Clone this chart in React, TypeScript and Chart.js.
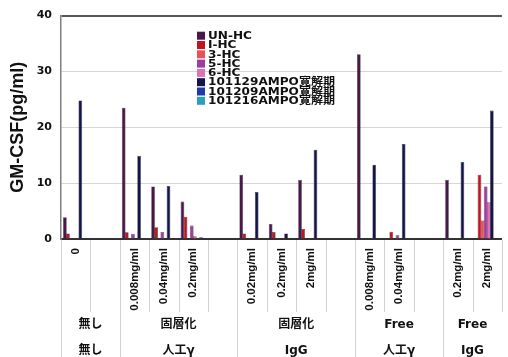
import React, { useEffect, useRef } from 'react';
import { Chart, registerables } from 'chart.js';

Chart.register(...registerables);

// Dose labels per column (blank columns separate the groups)
const categories = [
  '0', '',
  '0.008mg/ml', '0.04mg/ml', '0.2mg/ml', '',
  '0.02mg/ml', '0.2mg/ml', '2mg/ml', '',
  '0.008mg/ml', '0.04mg/ml', '',
  '0.2mg/ml', '2mg/ml',
];

const seriesNames = [
  'UN-HC', 'I-HC', '3-HC', '5-HC', '6-HC',
  '101129AMPO寛解期', '101209AMPO寛解期', '101216AMPO寛解期',
];

// GM-CSF (pg/ml) per column for each sample
const unHC = [3.9, 0, 23.5, 9.4, 6.7, 0, 11.5, 2.7, 10.6, 0, 33.1, 0, 0, 10.6, 0];
const iHC = [1.0, 0, 1.2, 2.1, 4.0, 0, 1.0, 1.25, 1.8, 0, 0, 1.3, 0, 0, 11.5];
const hc3 = [0.2, 0, 0, 0, 0, 0, 0, 0, 0, 0, 0, 0, 0, 0, 3.3];
const hc5 = [0, 0, 0.9, 1.25, 2.4, 0, 0, 0, 0, 0, 0, 0.65, 0, 0, 9.4];
const hc6 = [0, 0, 0, 0, 0.5, 0, 0, 0, 0, 0, 0, 0, 0, 0, 6.6];
const ampo1129 = [24.8, 0, 14.9, 9.5, 0, 0, 8.4, 1.0, 16.0, 0, 13.3, 17.0, 0, 13.8, 23.0];
const ampo1209 = [0, 0, 0, 0, 0.3, 0, 0, 0, 0, 0, 0, 0, 0, 0, 0];
const ampo1216 = [0, 0, 0, 0, 0, 0, 0, 0, 0, 0, 0, 0, 0, 0, 0];

const seriesValues = [unHC, iHC, hc3, hc5, hc6, ampo1129, ampo1209, ampo1216];
const seriesColors = [
  '#4a1848', '#c0141e', '#e8505a', '#a03ca0',
  '#e070b8', '#14164a', '#1e3ca8', '#2aa0c0',
];

// Two-row group table under the dose labels
const groupRow1 = ['無し', '固層化', '固層化', 'Free', 'Free'];
const groupRow2 = ['無し', '人工γ', 'IgG', '人工γ', 'IgG'];
const groupFirst = [0, 2, 6, 10, 13];
const groupLast = [1, 5, 9, 12, 14];

const yTicks = [0, 10, 20, 30, 40];

const legendPlugin = {
  id: 'insideLegend',
  afterDraw(chart: any) {
    const ctx = chart.ctx;
    ctx.save();
    ctx.font = 'bold 10.5px "DejaVu Sans", "Noto Sans CJK JP"';
    ctx.textBaseline = 'middle';
    ctx.textAlign = 'left';
    chart.data.datasets.forEach((ds: any, i: number) => {
      const cy = 35.7 + i * 9.3;
      ctx.fillStyle = ds.backgroundColor;
      ctx.fillRect(197, cy - 4, 8, 8);
      ctx.save();
      ctx.translate(208, cy + 0.5);
      ctx.scale(1.15, 1);
      ctx.fillStyle = '#111';
      ctx.fillText(ds.label, 0, 0);
      ctx.restore();
    });
    ctx.restore();
  },
};

const groupTablePlugin = {
  id: 'groupTable',
  afterDraw(chart: any) {
    const ctx = chart.ctx;
    const xs = chart.scales.x;
    const area = chart.chartArea;
    const w = xs.getPixelForValue(1) - xs.getPixelForValue(0);
    const edge = (i: number) => xs.getPixelForValue(i) - w / 2;
    ctx.save();
    ctx.strokeStyle = '#d2d2d2';
    ctx.lineWidth = 1;
    for (let i = 0; i <= categories.length; i++) {
      const isGroup = groupFirst.includes(i);
      const x = Math.round(edge(i)) + 0.5;
      ctx.beginPath();
      ctx.moveTo(x, area.bottom + 1);
      ctx.lineTo(x, isGroup ? chart.height : 312);
      ctx.stroke();
    }
    ctx.fillStyle = '#111';
    ctx.font = 'bold 12px "DejaVu Sans", "Noto Sans CJK JP"';
    ctx.textAlign = 'center';
    ctx.textBaseline = 'middle';
    for (let g = 0; g < groupRow1.length; g++) {
      const cx = (edge(groupFirst[g]) + edge(groupLast[g] + 1)) / 2;
      ctx.fillText(groupRow1[g], cx, 325);
      ctx.fillText(groupRow2[g], cx, 351);
    }
    ctx.restore();
  },
};

export default function App() {
  const canvasRef = useRef<HTMLCanvasElement | null>(null);

  useEffect(() => {
    document.body.style.margin = '0';
    const canvas = canvasRef.current;
    if (!canvas) return;
    const chart = new Chart(canvas, {
      type: 'bar',
      data: {
        labels: categories,
        datasets: seriesNames.map((name, i) => ({
          label: name,
          data: seriesValues[i],
          backgroundColor: seriesColors[i],
          borderColor: 'rgba(30,20,35,0.85)',
          borderWidth: 0.6,
          categoryPercentage: 0.84,
          barPercentage: 1.2,
        })),
      },
      options: {
        animation: false,
        responsive: false,
        devicePixelRatio: 1,
        layout: { padding: { top: 14, left: 0, right: 0, bottom: 0 } },
        plugins: {
          legend: { display: false },
          tooltip: { enabled: false },
        },
        scales: {
          x: {
            grid: { display: false, drawTicks: false },
            border: { display: true, color: '#333', width: 1.5 },
            ticks: {
              autoSkip: false,
              minRotation: 90,
              maxRotation: 90,
              padding: 9,
              color: '#111',
              font: { family: '"Liberation Sans", Arial', size: 11.5, weight: 'bold' },
            },
            afterFit: (scale: any) => { scale.height = 357 - 14 - 225; },
          },
          y: {
            min: 0,
            max: 40,
            afterBuildTicks: (scale: any) => {
              scale.ticks = yTicks.map((v) => ({ value: v }));
            },
            grid: {
              drawTicks: false,
              color: (c: any) => (c.tick && c.tick.value === 40 ? '#555' : c.tick && c.tick.value === 0 ? '#333' : '#d6d6d6'),
              lineWidth: (c: any) => (c.tick && c.tick.value === 40 ? 2 : 1),
            },
            border: { display: true, color: '#808080', width: 1.5 },
            ticks: {
              padding: 9,
              color: '#111',
              font: { family: '"DejaVu Sans"', size: 11, weight: 'bold' },
            },
            title: {
              display: true,
              text: 'GM-CSF(pg/ml)',
              color: '#111',
              padding: { top: 7, bottom: 0 },
              font: { family: '"Liberation Sans", Arial', size: 18, weight: 'bold' },
            },
            afterFit: (scale: any) => { scale.width = 61; },
          },
        },
      },
      plugins: [legendPlugin, groupTablePlugin],
    });
    return () => chart.destroy();
  }, []);

  return (
    <div style={{ width: 508, height: 357, overflow: 'hidden', background: '#fff' }}>
      <canvas ref={canvasRef} width={510} height={357} style={{ display: 'block' }} />
    </div>
  );
}
